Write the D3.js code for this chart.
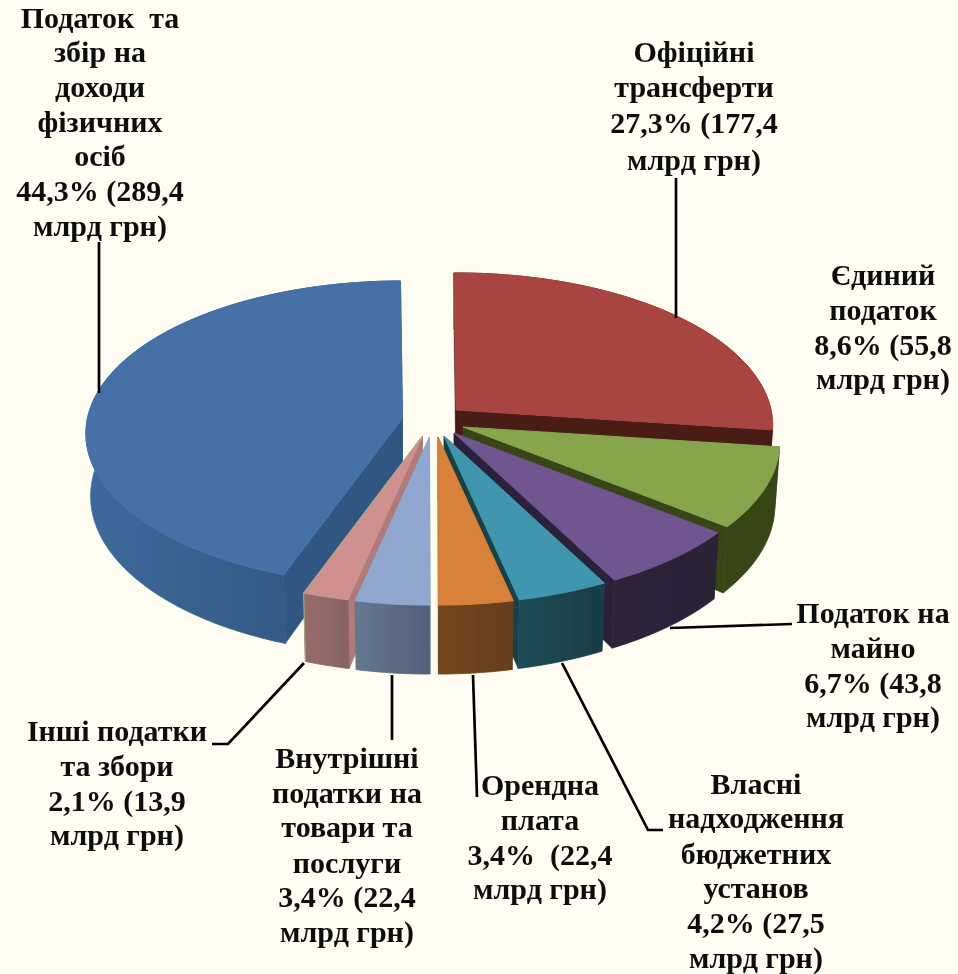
<!DOCTYPE html>
<html lang="uk">
<head>
<meta charset="utf-8">
<script src="https://cdn.jsdelivr.net/npm/d3@7/dist/d3.min.js"></script>
<style>
html,body{margin:0;padding:0;background:#fffdf2;overflow:hidden}
text{font-family:"Liberation Serif","Times New Roman",serif;font-weight:700;fill:#111}
</style>
</head>
<body>
<svg id="c" width="958" height="974"></svg>
<script>
// ---- data ----
const categories = ["Офіційні трансферти","Єдиний податок","Податок на майно","Власні надходження бюджетних установ","Орендна плата","Внутрішні податки на товари та послуги","Інші податки та збори","Податок та збір на доходи фізичних осіб"];
const valuesBn = [177.4,55.8,43.8,27.5,22.4,22.4,13.9,289.4];
const percents = ["27,3%","8,6%","6,7%","4,2%","3,4%","3,4%","2,1%","44,3%"];
const labelLines = [
  ["Офіційні","трансферти","27,3% (177,4","млрд грн)"],
  ["Єдиний","податок","8,6% (55,8","млрд грн)"],
  ["Податок на","майно","6,7% (43,8","млрд грн)"],
  ["Власні","надходження","бюджетних","установ","4,2% (27,5","млрд грн)"],
  ["Орендна","плата","3,4%  (22,4","млрд грн)"],
  ["Внутрішні","податки на","товари та","послуги","3,4% (22,4","млрд грн)"],
  ["Інші податки","та збори","2,1% (13,9","млрд грн)"],
  ["Податок  та","збір на","доходи","фізичних","осіб","44,3% (289,4","млрд грн)"]
];
// ---- layout (not data) ----
const topColors  = ["#a84541","#87a54b","#705490","#4096ae","#d8813a","#91a7d0","#cf9190","#4571a7"];
const faceColors = ["#4a1a17","#374519","#2c2238","#1a4047","#6b401c","#5f6f8a","#b07a78","#325782"];
const wallFrom   = ["#4a1a17","#374519","#2e2439","#1d4b56","#74471f","#66778f","#976c6b","#3c6a9a"];
const wallTo     = ["#4a1a17","#374519","#2a2036","#193c44","#663c1a","#525f78","#876362","#30507a"];
const apexes = [[456,410],[463,427],[454,433],[444,436],[438,437],[429.5,437],[422.5,436],[402.5,418]];
const labelX = [694,883,873,756,540,347,117,100];
const labelY = [
  [62,97,133,170],
  [285,320,355,389],
  [623,658,693,727],
  [794,828,864,898,933,968],
  [795,830,865,899],
  [768,803,837,873,907,942],
  [741,776,811,845],
  [28,62,97,132,166,201,236]
];
const leaders = [
  [[676,178],[676,318]],
  [[670,628],[792,624]],
  [[562,663],[648,830],[663,830]],
  [[473,675],[477,797]],
  [[392,675],[392,740]],
  [[304,663],[228,744],[212,744]],
  [[99,242],[99,393]]
];
const rx=315, ry=151, persp=0.1016, depth=62, shrink=0.985, rotate=-0.007;
const paintOrder=[0,1,2,3,7,6,5,4];

const svg=d3.select("#c");
svg.append("rect").attr("width",958).attr("height",974).attr("fill","#fffdf2");
const defs=svg.append("defs");
const soft=defs.append("filter").attr("id","soft").attr("x","-5%").attr("y","-5%").attr("width","110%").attr("height","110%");
soft.append("feGaussianBlur").attr("stdDeviation",0.45);

const slices=d3.pie().sort(null).value(d=>d).startAngle(rotate).endAngle(2*Math.PI+rotate)(valuesBn);
const root=svg.append("g").attr("filter","url(#soft)");

function project(i,a,r,low){
  const [cx,cy]=apexes[i];
  const u=r*Math.sin(a), v=r*Math.cos(a), den=1+persp*v;
  const s=low?shrink:1;
  return [cx+rx*u/den*s, cy-ry*v/den+(low?depth/den:0)];
}
const line=d3.line();
const grad=defs.selectAll("linearGradient").data(wallFrom).join("linearGradient")
  .attr("id",(d,i)=>"w"+i);
grad.append("stop").attr("offset",0).attr("stop-color",d=>d);
grad.append("stop").attr("offset",1).attr("stop-color",(d,i)=>wallTo[i]);

paintOrder.forEach(i=>{
  const s=slices[i], g=root.append("g").attr("class","slice");
  const angles=d3.range(s.startAngle,s.endAngle,0.01).concat([s.endAngle]);
  const rim=angles.map(a=>project(i,a,1,false));
  const rimLow=angles.map(a=>project(i,a,1,true));
  [s.startAngle,s.endAngle].forEach(a=>{
    g.append("path").attr("fill",faceColors[i]).attr("stroke",faceColors[i]).attr("stroke-width",0.5).attr("d",line([
      project(i,a,0,false),project(i,a,1,false),project(i,a,1,true),project(i,a,0,true)
    ])+"Z");
  });
  g.append("path").attr("fill","url(#w"+i+")").attr("stroke","url(#w"+i+")").attr("stroke-width",0.8).attr("d",line(rim.concat(rimLow.slice().reverse()))+"Z");
  g.append("path").attr("fill",topColors[i]).attr("stroke",topColors[i]).attr("stroke-width",1).attr("d",line([project(i,0,0,false)].concat(rim))+"Z");
  if(i===6){ // thin pale-green outline along the slice's left edge
    g.append("path").attr("fill","none").attr("stroke","#9aaf80").attr("stroke-width",1)
      .attr("d",line([project(i,s.endAngle,0,false),project(i,s.endAngle,1,false),project(i,s.endAngle,1,true)]));
  }
});

svg.append("g").selectAll("path").data(leaders).join("path")
  .attr("d",d=>line(d)).attr("fill","none").attr("stroke","#000").attr("stroke-width",2.7);

const lab=svg.append("g").attr("filter","url(#soft)").selectAll("text").data(labelLines).join("text")
  .attr("text-anchor","middle").attr("font-size",30).style("white-space","pre");
lab.each(function(lines,i){
  d3.select(this).selectAll("tspan").data(lines).join("tspan")
    .attr("x",labelX[i]).attr("y",(d,k)=>labelY[i][k]).text(d=>d);
});
</script>
</body>
</html>
